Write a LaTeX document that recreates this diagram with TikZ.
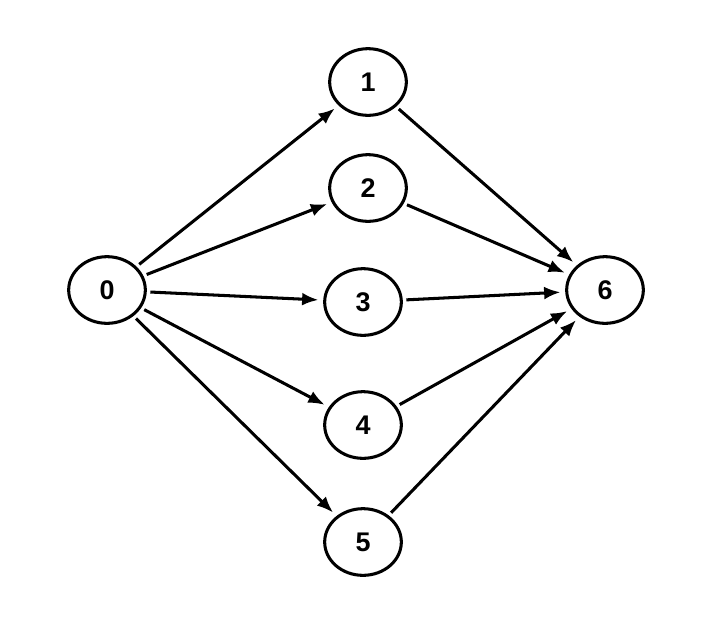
\documentclass[tikz,border=0pt]{standalone}
\usepackage{fontspec}
\setmainfont{Liberation Sans}
\usetikzlibrary{shapes.geometric,arrows.meta}

\begin{document}
\begin{tikzpicture}[x=0.03cm, y=-0.03cm,
    every node/.style={ellipse, draw, line width=2.6pt, minimum width=2.3cm, minimum height=2cm, font=\fontsize{23}{26}\selectfont\bfseries},
    edge/.style={-{Latex[length=14pt,width=11pt]}, line width=2.6pt, shorten <=3pt, shorten >=4pt}]
    \useasboundingbox (0,0) rectangle (706,630);
    \node (n0) at (107,290) {0};
    \node (n1) at (368,82) {1};
    \node (n2) at (368,188) {2};
    \node (n3) at (363,302) {3};
    \node (n4) at (363,425) {4};
    \node (n5) at (363,542) {5};
    \node (n6) at (605,290) {6};
    \foreach \i in {1,...,5} {
        \draw [edge] (n0) -- (n\i);
        \draw [edge] (n\i) -- (n6);
    }
\end{tikzpicture}
\end{document}
